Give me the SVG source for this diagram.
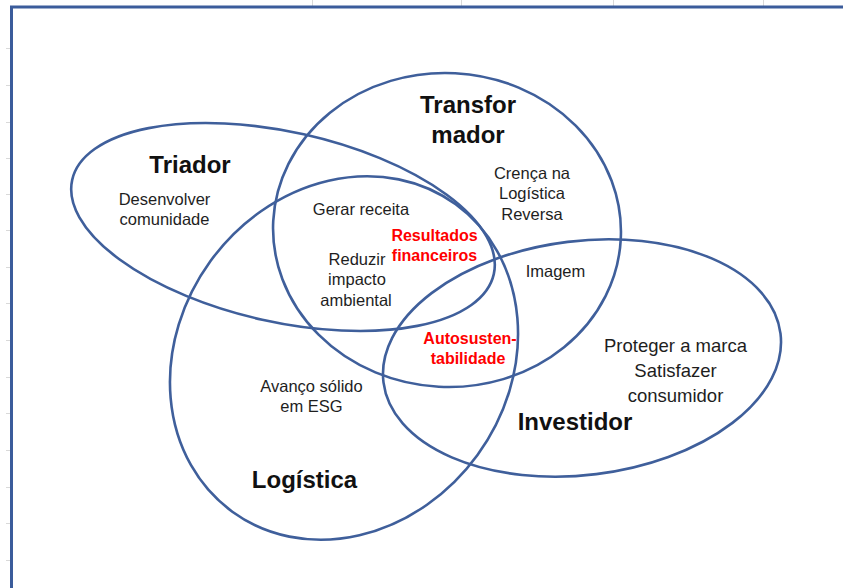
<svg xmlns="http://www.w3.org/2000/svg" width="843" height="588" viewBox="0 0 843 588">
  <style>
    .grid { stroke: #d9d9d9; stroke-width: 1; fill: none; }
    .frame { stroke: #3b5c9b; stroke-width: 3; fill: none; }
    .set { fill: none; stroke: #3f5f9b; stroke-width: 2.6; }
    text { font-family: "Liberation Sans", Arial, sans-serif; text-anchor: middle; fill: #1e1e1e; }
    .title { font-weight: bold; font-size: 24px; fill: #111; }
    .item { font-size: 16.5px; }
    .item-lg { font-size: 18.5px; }
    .shared { font-weight: bold; font-size: 16px; fill: #ff0000; }
  </style>

  <rect width="843" height="588" fill="#ffffff"/>

  <!-- sheet gridlines behind the drawing frame -->
  <g id="sheet-grid" class="grid">
    <path d="M312.5,0 V6 M461.5,0 V6 M613.5,0 V6 M763.5,0 V6"/>
    <path d="M6,48.5 H10 M6,85.5 H10 M6,122.5 H10 M6,158.5 H10 M6,194.5 H10 M6,230.5 H10 M6,267.5 H10 M6,303.5 H10 M6,340.5 H10 M6,377.5 H10 M6,413.5 H10 M6,450.5 H10 M6,487.5 H10 M6,523.5 H10 M6,560.5 H10"/>
  </g>

  <!-- drawing frame -->
  <path id="frame" class="frame" d="M11.5,588 V7 H843"/>

  <!-- set outlines -->
  <g id="connectors">
    <ellipse id="set-triador" class="set" cx="283" cy="227" rx="216" ry="95" transform="rotate(12.6 283 227)"/>
    <ellipse id="set-transformador" class="set" cx="447" cy="230" rx="174" ry="157" transform="rotate(3 447 230)"/>
    <ellipse id="set-logistica" class="set" cx="344" cy="358" rx="190" ry="165" transform="rotate(-54 344 358)"/>
    <ellipse id="set-investidor" class="set" cx="582" cy="358" rx="200" ry="117" transform="rotate(-7 582 358)"/>
  </g>

  <g id="triador">
    <text class="title" x="190" y="173">Triador</text>
    <text class="item" x="164.5" y="205">Desenvolver</text>
    <text class="item" x="164.5" y="225">comunidade</text>
  </g>

  <g id="transformador">
    <text class="title" x="468" y="113">Transfor</text>
    <text class="title" x="468" y="143">mador</text>
    <text class="item" x="532" y="179">Crença na</text>
    <text class="item" x="532" y="199">Logística</text>
    <text class="item" x="532" y="220">Reversa</text>
  </g>

  <g id="centro">
    <text class="item" x="361" y="215">Gerar receita</text>
    <text class="item" x="357" y="265">Reduzir</text>
    <text class="item" x="357" y="285">impacto</text>
    <text class="item" x="356" y="306">ambiental</text>
  </g>

  <g id="resultados-financeiros">
    <text class="shared" x="434.5" y="241">Resultados</text>
    <text class="shared" x="434.5" y="261">financeiros</text>
  </g>

  <g id="autosustentabilidade">
    <text class="shared" x="470" y="344">Autosusten-</text>
    <text class="shared" x="468" y="364">tabilidade</text>
  </g>

  <g id="imagem">
    <text class="item" x="555.5" y="277">Imagem</text>
  </g>

  <g id="investidor">
    <text class="item-lg" x="675.5" y="352">Proteger a marca</text>
    <text class="item-lg" x="675.5" y="377">Satisfazer</text>
    <text class="item-lg" x="675.5" y="402">consumidor</text>
    <text class="title" x="575" y="430">Investidor</text>
  </g>

  <g id="logistica">
    <text class="item" x="311.5" y="392">Avanço sólido</text>
    <text class="item" x="311.5" y="412">em ESG</text>
    <text class="title" x="304.5" y="488">Logística</text>
  </g>
</svg>
